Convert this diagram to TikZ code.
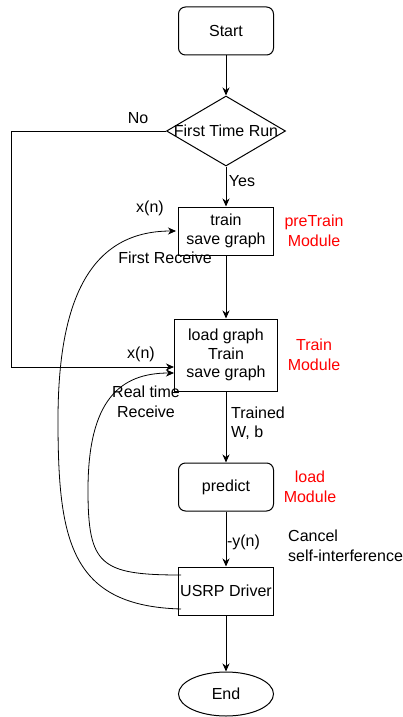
\documentclass[tikz,border=0pt]{standalone}
\usepackage{fontspec}
\setmainfont{Liberation Sans}
\usetikzlibrary{shapes.geometric,arrows.meta,calc}

\tikzset{
  base/.style={draw, line width=1pt, inner sep=0pt, align=center,
    font=\fontsize{16}{18.5}\selectfont},
  box/.style={base, rectangle, minimum width=95pt, minimum height=48pt},
  rbox/.style={box, rounded corners=7pt},
  arr/.style={line width=1pt, -{Stealth[length=8pt,width=7pt,inset=2.5pt]}},
  curve/.style={line width=0.8pt, -{Stealth[length=8pt,width=7pt,inset=2.5pt]}},
  txt/.style={inner sep=0pt, align=center, font=\fontsize{16}{19.5}\selectfont},
  modlbl/.style={txt, text=red},
}

\begin{document}
\begin{tikzpicture}[x=1pt,y=-1pt]
  \useasboundingbox (0,0) rectangle (402,717);

  % flow boxes
  \node[rbox] (start) at (226,31) {Start};
  \node[base, diamond, minimum width=119pt, minimum height=70pt,
        label={[txt]center:First Time Run}] (dec) at (226,131) {};
  \node[box] (pretrain) at (226,231) {train\\save graph};
  \node[box, minimum width=103pt, minimum height=72pt] (train) at (226,355)
        {load graph\\Train\\save graph};
  \node[rbox] (predict) at (226,487) {predict};
  \node[box] (usrp) at (226,591) {USRP Driver};
  \node[base, ellipse, minimum width=95pt, minimum height=44pt] (end) at (226,694) {End};

  % module captions
  \node[modlbl] (m1) at (314,231) {preTrain\\Module};
  \node[modlbl] (m2) at (314,355) {Train\\Module};
  \node[modlbl] (m3) at (310,487) {load\\Module};

  % main flow
  \draw[arr] (start) -- (dec);
  \draw[arr] (dec) -- (pretrain);
  \draw[arr] (pretrain) -- (train);
  \draw[arr] (train) -- (predict);
  \draw[arr] (predict) -- (usrp);
  \draw[arr] (usrp) -- (end);

  % "No" branch around the left side
  \coordinate (nocorner) at (11,131);
  \draw[arr] (dec.west) -- (nocorner) |- ($(train.west)+(0,12)$);

  % receive feedback curves from the driver
  \draw[curve] ($(usrp.west)+(3,18)$) .. controls (70,606) and (58,540) .. (58,420)
               .. controls (58,300) and (90,231) .. ($(pretrain.west)+(-2,0)$);
  \draw[curve] ($(usrp.west)+(3,-16)$) .. controls (100,575) and (88,565) .. (88,490)
               .. controls (88,400) and (120,373) .. ($(train.west)+(0,18)$);

  % edge labels
  \node[txt] (lno) at (138,118) {No};
  \node[txt] (lyes) at (242,181) {Yes};
  \node[txt] (lx1) at (150,208) {x(n)};
  \node[txt] (lfirst) at (165,258) {First Receive};
  \node[txt] (lx2) at (141,354) {x(n)};
  \node[txt] (lreal) at (146,402) {Real time\\Receive};
  \node[txt, anchor=west, align=left] (ltrained) at (231,423) {Trained\\W, b};
  \node[txt] (ly) at (243.5,542) {-y(n)};
  \node[txt, anchor=west, align=left] (lcancel) at (288,546) {Cancel\\self-interference};
\end{tikzpicture}
\end{document}
